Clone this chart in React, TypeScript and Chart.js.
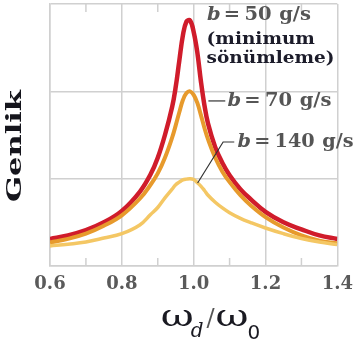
import React, { useEffect, useRef } from "react";
import { Chart, registerables } from "chart.js";
Chart.register(...registerables);

// ω_d / ω_0 sample positions
const X_VALUES = [0.6, 0.65, 0.7, 0.75, 0.8, 0.85, 0.88, 0.9, 0.92, 0.94, 0.95, 0.96, 0.97, 0.98, 0.99, 1.0, 1.01, 1.02, 1.03, 1.04, 1.06, 1.08, 1.1, 1.13, 1.16, 1.2, 1.25, 1.3, 1.35, 1.4];
// Genlik (amplitude) for b = 50 g/s
const AMP_B50 = [0.31, 0.35, 0.41, 0.5, 0.63, 0.85, 1.05, 1.24, 1.5, 1.82, 2.05, 2.35, 2.64, 2.8, 2.81, 2.68, 2.45, 2.12, 1.84, 1.63, 1.36, 1.18, 1.04, 0.88, 0.76, 0.62, 0.5, 0.42, 0.35, 0.31];
// b = 70 g/s
const AMP_B70 = [0.27, 0.31, 0.37, 0.46, 0.58, 0.77, 0.93, 1.06, 1.24, 1.47, 1.61, 1.76, 1.9, 1.98, 2.0, 1.96, 1.87, 1.73, 1.58, 1.45, 1.24, 1.08, 0.96, 0.81, 0.69, 0.56, 0.44, 0.35, 0.29, 0.26];
// b = 140 g/s
const AMP_B140 = [0.23, 0.25, 0.275, 0.32, 0.37, 0.47, 0.59, 0.67, 0.78, 0.88, 0.93, 0.96, 0.985, 0.995, 1.0, 0.99, 0.955, 0.915, 0.865, 0.81, 0.73, 0.665, 0.61, 0.545, 0.495, 0.435, 0.37, 0.315, 0.275, 0.245];

const X_TICKS = [0.6, 0.8, 1.0, 1.2, 1.4];
const MINOR_TICKS = [0.7, 0.9, 1.1, 1.3];
const Y_GRID = [0, 1, 2, 3];
const B_VALUES = ["50", "70", "140"];
const NOTE_LINES = ["(minimum", "sönümleme)"];
const Y_TITLE = "Genlik";

const RED = "#d01c2b";
const ORANGE = "#e79a2c";
const YELLOW = "#f4c764";
const GRID = "#d0d0d0";
const SERIF = "'DejaVu Serif', serif";

function drawBLabel(ctx: CanvasRenderingContext2D, x: number, y: number, val: string, targetW: number) {
  ctx.save();
  ctx.textBaseline = "middle";
  ctx.textAlign = "left";
  ctx.fillStyle = "#555";
  const fb = `italic bold 18px ${SERIF}`;
  const fn = `bold 18px ${SERIF}`;
  ctx.font = fb;
  const wb = ctx.measureText("b").width;
  ctx.font = fn;
  const we = ctx.measureText("=").width;
  const wv = ctx.measureText(val).width;
  const wg = ctx.measureText("g/s").width;
  const g1 = 3, g2 = 4, g3 = 7;
  const total = wb + g1 + we + g2 + wv + g3 + wg;
  ctx.translate(x, 0);
  ctx.scale(targetW / total, 1);
  let cx = 0;
  ctx.font = fb;
  ctx.fillText("b", cx, y);
  cx += wb + g1;
  ctx.font = fn;
  ctx.fillText("=", cx, y);
  cx += we + g2;
  ctx.fillText(val, cx, y);
  cx += wv + g3;
  ctx.fillText("g/s", cx, y);
  ctx.restore();
}

const decor = {
  id: "decor",
  beforeDatasetsDraw(chart: any) {
    const { ctx, chartArea: a, scales } = chart;
    const xs = scales.x;
    ctx.save();
    ctx.strokeStyle = GRID;
    ctx.lineWidth = 1.5;
    MINOR_TICKS.forEach((v) => {
      const px = xs.getPixelForValue(v);
      ctx.beginPath();
      ctx.moveTo(px, a.bottom);
      ctx.lineTo(px, a.bottom - 8);
      ctx.moveTo(px, a.top);
      ctx.lineTo(px, a.top + 8);
      ctx.stroke();
    });
    ctx.restore();
  },
  afterDraw(chart: any) {
    const { ctx, chartArea: a, scales } = chart;
    const xs = scales.x;
    const ys = scales.y;
    const P = (x: number, y: number) => [xs.getPixelForValue(x), ys.getPixelForValue(y)];

    // b = 50 label + note
    const [l1x, l1y] = P(1.037, 2.87);
    drawBLabel(ctx, l1x, l1y, B_VALUES[0], 104);
    ctx.save();
    ctx.fillStyle = "#1c1c2a";
    ctx.font = `bold 17px ${SERIF}`;
    ctx.textBaseline = "middle";
    const sx = 128 / ctx.measureText(NOTE_LINES[1]).width;
    const [n1x, n1y] = P(1.036, 2.59);
    const [, n2y] = P(1.036, 2.38);
    ctx.translate(n1x, 0);
    ctx.scale(sx, 1);
    ctx.fillText(NOTE_LINES[0], 0, n1y);
    ctx.fillText(NOTE_LINES[1], 0, n2y);
    ctx.restore();

    // leaders
    ctx.save();
    ctx.strokeStyle = "#333";
    ctx.lineWidth = 1.2;
    const [a1x, a1y] = P(1.041, 1.89);
    const [a2x] = P(1.088, 1.89);
    ctx.beginPath();
    ctx.moveTo(a1x, a1y);
    ctx.lineTo(a2x, a1y);
    ctx.stroke();
    const [c1x, c1y] = P(1.011, 0.95);
    const [c2x, c2y] = P(1.082, 1.42);
    const [c3x] = P(1.113, 1.42);
    ctx.beginPath();
    ctx.moveTo(c1x, c1y);
    ctx.lineTo(c2x, c2y);
    ctx.lineTo(c3x, c2y);
    ctx.stroke();
    ctx.restore();

    const [t2x, t2y] = P(1.094, 1.89);
    drawBLabel(ctx, t2x, t2y, B_VALUES[1], 104);
    const [t3x, t3y] = P(1.122, 1.42);
    drawBLabel(ctx, t3x, t3y, B_VALUES[2], 116);

    // y title
    ctx.save();
    ctx.translate(16, (a.top + a.bottom) / 2 + 11);
    ctx.rotate(-Math.PI / 2);
    ctx.font = `bold 21px ${SERIF}`;
    ctx.fillStyle = "#15151c";
    ctx.textAlign = "center";
    ctx.textBaseline = "middle";
    const gw = ctx.measureText(Y_TITLE).width;
    ctx.scale(112 / gw, 1);
    ctx.fillText(Y_TITLE, 0, 0);
    ctx.restore();

    // x title  ω_d / ω_0
    ctx.save();
    ctx.fillStyle = "#1a1a22";
    ctx.textBaseline = "alphabetic";
    const base = 326;
    const drawW = (x0: number) => {
      ctx.save();
      ctx.font = `30px ${SERIF}`;
      ctx.translate(x0, base);
      ctx.scale(1.35, 1);
      ctx.fillText("ω", 0, 0);
      const w = ctx.measureText("ω").width * 1.35;
      ctx.restore();
      return w;
    };
    let cx = (a.left + a.right) / 2 - 33;
    cx += drawW(cx) - 3;
    ctx.font = `italic 20px ${SERIF}`;
    ctx.fillText("d", cx, base + 11);
    cx += ctx.measureText("d").width + 3;
    ctx.fillStyle = "#555";
    ctx.font = `24px ${SERIF}`;
    ctx.fillText("/", cx, base);
    cx += ctx.measureText("/").width + 1;
    ctx.fillStyle = "#1a1a22";
    cx += drawW(cx) - 1;
    ctx.font = `20px 'DejaVu Sans', sans-serif`;
    ctx.fillText("0", cx, base + 13);
    ctx.restore();
  },
};

export default function App() {
  const ref = useRef<HTMLCanvasElement>(null);
  useEffect(() => {
    if (!ref.current) return;
    const mk = (vals: number[]) => X_VALUES.map((x, i) => ({ x, y: vals[i] }));
    const common = { pointRadius: 0, fill: false, tension: 0.4 };
    const chart = new Chart(ref.current, {
      type: "line",
      data: {
        datasets: [
          { label: "b = 140 g/s", data: mk(AMP_B140), borderColor: YELLOW, borderWidth: 3.5, ...common },
          { label: "b = 70 g/s", data: mk(AMP_B70), borderColor: ORANGE, borderWidth: 4, ...common },
          { label: "b = 50 g/s", data: mk(AMP_B50), borderColor: RED, borderWidth: 4.5, ...common },
        ],
      },
      options: {
        animation: false,
        responsive: false,
        devicePixelRatio: 1,
        layout: { padding: { left: 50, right: 17, top: 4, bottom: 0 } },
        plugins: { legend: { display: false }, tooltip: { enabled: false } },
        scales: {
          x: {
            type: "linear",
            min: 0.6,
            max: 1.4,
            afterBuildTicks: (s: any) => {
              s.ticks = X_TICKS.map((v) => ({ value: v }));
            },
            afterFit: (s: any) => {
              s.height = 81;
            },
            ticks: {
              callback: (v: any) => Number(v).toFixed(1),
              font: { family: "DejaVu Serif", size: 18, weight: "bold" },
              color: "#5a5a5a",
              padding: 8,
              maxRotation: 0,
            },
            grid: { color: GRID, lineWidth: 1.5, drawTicks: false },
            border: { color: GRID, width: 1.5 },
          },
          y: {
            type: "linear",
            min: 0,
            max: 3,
            afterBuildTicks: (s: any) => {
              s.ticks = Y_GRID.map((v) => ({ value: v }));
            },
            afterFit: (s: any) => {
              s.width = 0;
            },
            ticks: { display: false },
            grid: { color: GRID, lineWidth: 1.5, drawTicks: false },
            border: { color: GRID, width: 1.5 },
          },
        },
      },
      plugins: [decor],
    });
    return () => chart.destroy();
  }, []);
  return (
    <div style={{ position: "absolute", left: 0, top: 0, width: 361, height: 347, background: "#fff" }}>
      <canvas ref={ref} width={361} height={347} style={{ width: 361, height: 347, display: "block" }} />
    </div>
  );
}
